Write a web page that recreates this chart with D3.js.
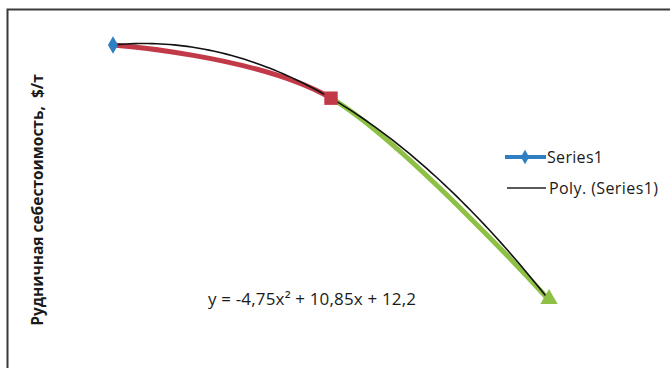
<!DOCTYPE html>
<html><head><meta charset="utf-8">
<script src="https://cdn.jsdelivr.net/npm/d3@7"></script>
<style>body{margin:0;background:#fff}svg{display:block}text{font-family:"Open Sans",sans-serif;fill:#1a1a1a}</style>
</head><body><svg id="c" width="670" height="368"></svg>
<script>
const categories = [1, 2, 3];
const values = [18.3, 14.9, 2.0];
const pointColors = ["#2f7ec2", "#c23a48", "#8dc044"];
const polyCoef = [-4.75, 10.85, 12.2];
const seriesName = "Series1";
const trendName = "Poly. (Series1)";
const equation = "y = -4,75x² + 10,85x + 12,2";
const yTitle = "Рудничная себестоимость,  $/т";

const svg = d3.select("#c");
const x = d3.scaleLinear().domain([0.5, 3.5]).range([4, 658]);
const y = d3.scaleLinear().domain([0, 20]).range([331.3, 18.4]);

svg.append("path").attr("d", "M7.5,372V9.5H672").attr("fill", "none").attr("stroke", "#3a3a3a").attr("stroke-width", 2);

const pts = categories.map((c, i) => [x(c), y(values[i])]);
const line = d3.line().curve(d3.curveCardinal.tension(0));
const defs = svg.append("defs");
defs.append("clipPath").attr("id", "c1").append("rect").attr("x", 0).attr("y", 0).attr("width", x(2)).attr("height", 368);
defs.append("clipPath").attr("id", "c2").append("rect").attr("x", x(2)).attr("y", 0).attr("width", 670).attr("height", 368);
svg.append("path").attr("d", line(pts)).attr("fill", "none").attr("stroke", pointColors[1]).attr("stroke-width", 5).attr("clip-path", "url(#c1)");
svg.append("path").attr("d", line(pts)).attr("fill", "none").attr("stroke", pointColors[2]).attr("stroke-width", 5).attr("clip-path", "url(#c2)");

const poly = t => polyCoef[0]*t*t + polyCoef[1]*t + polyCoef[2];
const tr = d3.range(0, 101).map(i => 1 + 2*i/100);
svg.append("path").attr("d", d3.line().x(t => x(t)).y(t => y(poly(t)))(tr))
  .attr("fill", "none").attr("stroke", "#111").attr("stroke-width", 1.6);

const shapes = [d3.symbolDiamond, d3.symbolSquare, d3.symbolTriangle];
const sizes = [90, 180, 130];
pts.forEach((p, i) => {
  svg.append("path").attr("d", d3.symbol().type(shapes[i]).size(sizes[i])())
    .attr("transform", `translate(${p[0]},${p[1] + (i === 2 ? -1 : 0)})`).attr("fill", pointColors[i]);
});

// legend
const lg = svg.append("g");
lg.append("line").attr("x1", 505).attr("x2", 546).attr("y1", 157).attr("y2", 157).attr("stroke", pointColors[0]).attr("stroke-width", 4);
lg.append("path").attr("d", d3.symbol().type(d3.symbolDiamond).size(60)()).attr("transform", "translate(525,157)").attr("fill", pointColors[0]);
lg.append("text").attr("x", 547).attr("y", 163).attr("font-size", 16).attr("textLength", 56).text(seriesName);
lg.append("line").attr("x1", 507).attr("x2", 546).attr("y1", 188).attr("y2", 188).attr("stroke", "#222").attr("stroke-width", 1.5);
lg.append("text").attr("x", 549).attr("y", 194).attr("font-size", 16).attr("textLength", 109).text(trendName);

svg.append("text").attr("x", 208).attr("y", 305).attr("font-size", 17).attr("textLength", 208).text(equation);

svg.append("text").attr("transform", "translate(43,200) rotate(-90)").attr("text-anchor", "middle")
  .attr("font-size", 15.5).attr("font-weight", "bold").style("white-space", "pre").text(yTitle);
</script></body></html>
